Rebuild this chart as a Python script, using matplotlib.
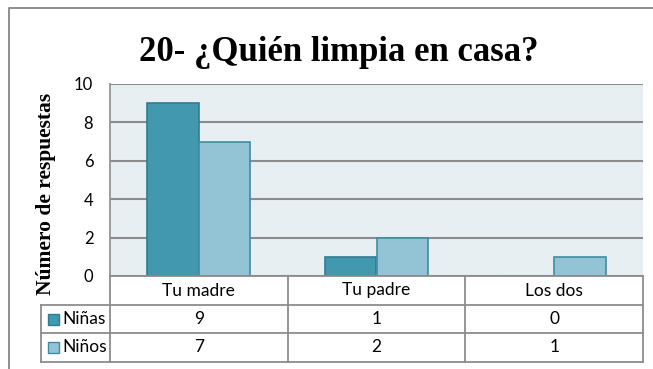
import matplotlib.pyplot as plt
import matplotlib.transforms as mtransforms
from matplotlib.lines import Line2D
from matplotlib.patches import Rectangle
import numpy as np

categories = ["Tu madre", "Tu padre", "Los dos"]
series_names = ["Niñas", "Niños"]
ninas = [9, 1, 0]
ninos = [7, 2, 1]
yticks = [0, 2, 4, 6, 8, 10]

face_colors = ["#4198AF", "#93C4D6"]
edge_colors = ["#2F7C90", "#3F8DA2"]
grid_gray = "#8C8C8C"

W, H = 653, 369
fig = plt.figure(figsize=(W / 100, H / 100), dpi=100)

def fx(px):
    return px / W

def fy(py):
    return 1 - py / H

# plot area in pixels
left, right, top, base = 110, 643, 84, 276
ax = fig.add_axes([fx(left), fy(base), fx(right - left), (base - top) / H])
ax.set_facecolor("#E8EFF3")

x = np.arange(len(categories))
bw = 0.29
for i, vals in enumerate([ninas, ninos]):
    ax.bar(x + (i - 0.5) * bw, vals, bw, color=face_colors[i],
           edgecolor=edge_colors[i], linewidth=1.2, zorder=3)

ax.set_xlim(-0.5, len(categories) - 0.5)
ax.set_ylim(0, 10)
ax.set_yticks(yticks)
ax.set_yticklabels([str(t) for t in yticks], fontfamily="Lato", fontsize=12)
ax.tick_params(axis="y", length=0, pad=12)
ax.tick_params(axis="x", bottom=False, labelbottom=False)
ax.grid(axis="y", color=grid_gray, linewidth=1.5, zorder=1)
for s in ["top", "right", "bottom"]:
    ax.spines[s].set_visible(False)
ax.spines["left"].set_color(grid_gray)
ax.spines["left"].set_linewidth(1.2)

# data table under the plot: x in data units, y in figure fraction
trans = mtransforms.blended_transform_factory(ax.transData, fig.transFigure)
rows = [276, 305, 333, 362]
xl, xr = -0.5, len(categories) - 0.5
lab_left = ax.transData.inverted().transform((41, 0))[0]

def hline(y, x0, x1):
    fig.add_artist(Line2D([x0, x1], [fy(y), fy(y)], transform=trans,
                          color=grid_gray, linewidth=1.3, clip_on=False))

def vline(xv, y0, y1):
    fig.add_artist(Line2D([xv, xv], [fy(y0), fy(y1)], transform=trans,
                          color=grid_gray, linewidth=1.3, clip_on=False))

hline(rows[0], xl, xr)
for r in rows[1:]:
    hline(r, lab_left, xr)
for b in np.arange(xl, xr + 0.01, 1.0):
    vline(b, rows[0], rows[3])
vline(lab_left, rows[1], rows[3])

tfont = dict(fontfamily="Lato", fontsize=12.5, ha="center", va="center",
             transform=trans)
for i, c in enumerate(categories):
    fig.text(i, fy((rows[0] + rows[1]) / 2), c, **tfont)
for j, vals in enumerate([ninas, ninos]):
    yc = fy((rows[j + 1] + rows[j + 2]) / 2)
    for i, v in enumerate(vals):
        fig.text(i, yc, str(v), **tfont)
    # legend key + series name
    fig.add_artist(Rectangle((fx(48), yc - 5.5 / H), fx(11), 11 / H,
                             transform=fig.transFigure, facecolor=face_colors[j],
                             edgecolor=edge_colors[j], linewidth=1))
    fig.text(fx(62), yc, series_names[j], fontfamily="Lato", fontsize=12.5,
             ha="left", va="center")

# chart frame
fig.add_artist(Line2D([fx(9), fx(9), 1.0], [0, fy(8), fy(8)],
                      transform=fig.transFigure, color="#868686", linewidth=1.3))

fig.text(fx(339), fy(61), "20- ¿Quién limpia en casa?", fontfamily="Liberation Serif",
         fontweight="bold", fontsize=25, ha="center", va="baseline")
fig.text(fx(46), fy(194), "Número de respuestas", fontfamily="Liberation Serif",
         fontweight="bold", fontsize=15.5, rotation=90, ha="center", va="center")

fig.savefig("out.png", dpi=100)
